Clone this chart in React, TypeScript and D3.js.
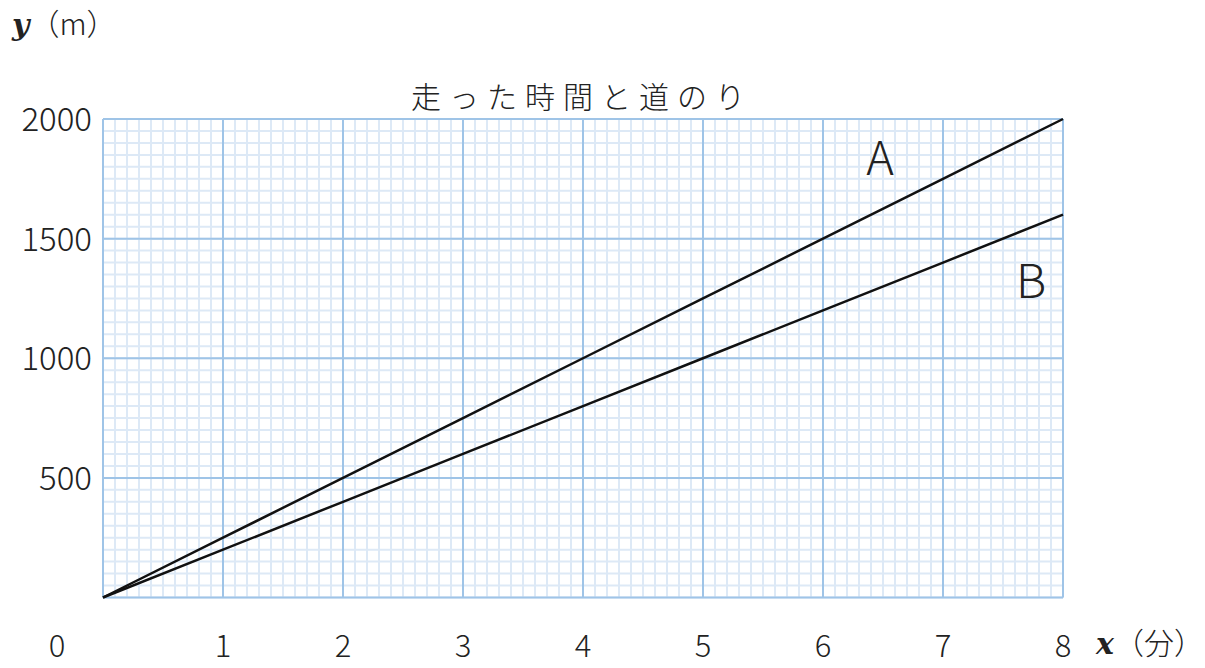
import * as d3 from 'd3';

const minutes = [0, 1, 2, 3, 4, 5, 6, 7, 8];
const distanceA = [0, 250, 500, 750, 1000, 1250, 1500, 1750, 2000];
const distanceB = [0, 200, 400, 600, 800, 1000, 1200, 1400, 1600];
const xTicks = [0, 1, 2, 3, 4, 5, 6, 7, 8];
const yTicks = [500, 1000, 1500, 2000];
const title = '走った時間と道のり';

const W = 1205;
const H = 668;
const margin = { left: 103, right: 142, top: 119, bottom: 70 };
const FONT = "'Noto Sans CJK JP', 'Noto Sans', sans-serif";

export default function App() {
  const x = d3.scaleLinear().domain([0, 8]).range([margin.left, W - margin.right]);
  const y = d3.scaleLinear().domain([0, 2000]).range([H - margin.bottom - 0.5, margin.top]);

  // fine grid: 10 steps per major cell
  const minorX = d3.range(0, 81).map((i) => i / 10);
  const minorY = d3.range(0, 41).map((i) => i * 50);

  const line = d3
    .line<number>()
    .x((_, i) => x(minutes[i]))
    .y((d) => y(d));

  const [x0, x1] = x.range();
  const [y0, y1] = y.range();

  return (
    <svg width={W} height={H} style={{ position: 'absolute', left: 0, top: 0 }}>
      <rect width={W} height={H} fill="#fff" />
      <g>
        {minorX.map((v) => (
          <line key={'mx' + v} x1={x(v)} x2={x(v)} y1={y0} y2={y1} stroke="#dde9f6" strokeWidth={2} />
        ))}
        {minorY.map((v) => (
          <line key={'my' + v} x1={x0} x2={x1} y1={y(v)} y2={y(v)} stroke="#dde9f6" strokeWidth={2} />
        ))}
        {xTicks.map((v) => (
          <line key={'Mx' + v} x1={x(v)} x2={x(v)} y1={y0} y2={y1} stroke="#9fc4e7" strokeWidth={2} />
        ))}
        {[0, ...yTicks].map((v) => (
          <line key={'My' + v} x1={x0} x2={x1} y1={y(v)} y2={y(v)} stroke="#9fc4e7" strokeWidth={2} />
        ))}
      </g>
      <path d={line(distanceA) || ''} fill="none" stroke="#111" strokeWidth={2.5} />
      <path d={line(distanceB) || ''} fill="none" stroke="#111" strokeWidth={2.5} />
      <g fontFamily={FONT} fontWeight={300} fill="#222">
        {yTicks.map((v) => (
          <text key={'yt' + v} x={92} y={y(v)} dy="0.36em" textAnchor="end" fontSize={33}>
            {v}
          </text>
        ))}
        {xTicks.map((v) => (
          <text key={'xt' + v} x={v === 0 ? 57 : x(v)} y={646} dy="0.36em" textAnchor="middle" fontSize={31}>
            {v}
          </text>
        ))}
        <text x={582} y={97} dy="0.36em" textAnchor="middle" fontSize={30} letterSpacing={8}>
          {title}
        </text>
        <text x={880} y={158} dy="0.36em" textAnchor="middle" fontSize={47}>A</text>
        <text x={1031} y={281} dy="0.36em" textAnchor="middle" fontSize={47}>B</text>
        <text x={1096} y={643} dy="0.36em" fontSize={30}>
          <tspan fontFamily="'DejaVu Serif', serif" fontStyle="italic" fontWeight={700}>x</tspan>
          <tspan>（分）</tspan>
        </text>
        <text x={12} y={24} dy="0.36em" fontSize={30}>
          <tspan fontFamily="'DejaVu Serif', serif" fontStyle="italic" fontWeight={700}>y</tspan>
          <tspan>（m）</tspan>
        </text>
      </g>
    </svg>
  );
}
